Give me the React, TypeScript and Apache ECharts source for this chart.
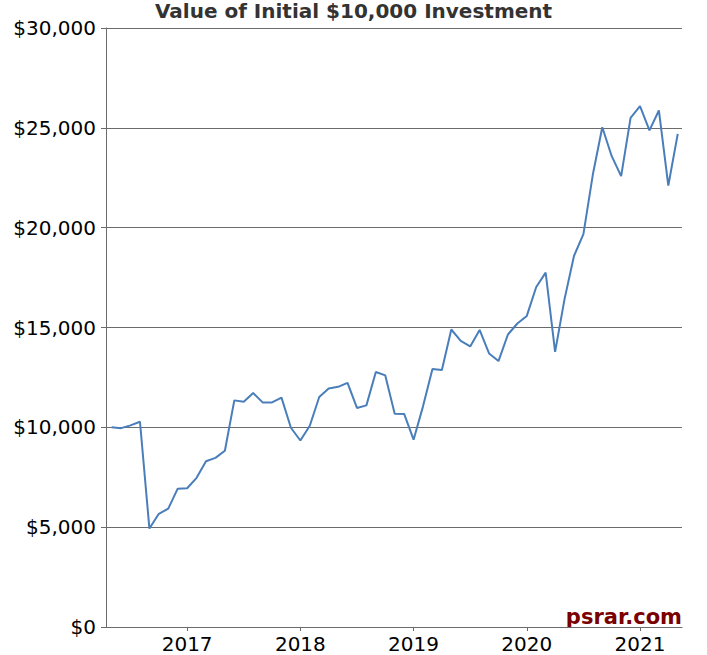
import React, { useEffect, useRef } from "react";
import * as echarts from "echarts";

const months: string[] = [
  "2016-04", "2016-05", "2016-06", "2016-07", "2016-08", "2016-09", "2016-10", "2016-11", "2016-12",
  "2017-01", "2017-02", "2017-03", "2017-04", "2017-05", "2017-06", "2017-07", "2017-08", "2017-09", "2017-10", "2017-11", "2017-12",
  "2018-01", "2018-02", "2018-03", "2018-04", "2018-05", "2018-06", "2018-07", "2018-08", "2018-09", "2018-10", "2018-11", "2018-12",
  "2019-01", "2019-02", "2019-03", "2019-04", "2019-05", "2019-06", "2019-07", "2019-08", "2019-09", "2019-10", "2019-11", "2019-12",
  "2020-01", "2020-02", "2020-03", "2020-04", "2020-05", "2020-06", "2020-07", "2020-08", "2020-09", "2020-10", "2020-11", "2020-12",
  "2021-01", "2021-02", "2021-03", "2021-04",
];

const values: number[] = [
  10000, 9960, 10100, 10280, 4930, 5670, 5930, 6930, 6950,
  7470, 8300, 8470, 8830, 11350, 11280, 11720, 11250, 11250, 11490, 9980, 9340,
  10080, 11520, 11950, 12030, 12230, 10970, 11100, 12770, 12600, 10680, 10670, 9380,
  11050, 12920, 12870, 14900, 14330, 14050, 14880, 13700, 13320, 14650, 15200, 15580,
  17030, 17750, 13780, 16420, 18580, 19680, 22660, 25030, 23580, 22580, 25500, 26090,
  24870, 25870, 22110, 24700,
];

const yearTicks: number[] = [2017, 2018, 2019, 2020, 2021];

const title = "Value of Initial $10,000 Investment";
const watermark = "psrar.com";

// month-end index: months elapsed since Jan 1 2016
const monthIndex = (m: string) => {
  const [y, mo] = m.split("-").map(Number);
  return (y - 2016) * 12 + mo;
};

export default function App() {
  const ref = useRef<HTMLDivElement>(null);
  useEffect(() => {
    if (!ref.current) return;
    const chart = echarts.init(ref.current, undefined, { renderer: "svg" });
    const font = "DejaVu Sans";
    const data = months.map((m, i) => [monthIndex(m), values[i]]);
    const tickVals = yearTicks.map((y) => (y - 2016) * 12);
    chart.setOption({
      animation: false,
      backgroundColor: "#ffffff",
      title: {
        text: title,
        left: "center",
        top: 0,
        padding: 0,
        textStyle: { fontFamily: font, fontWeight: "bold", fontSize: 20, lineHeight: 21, color: "#333333" },
      },
      grid: { left: 106, right: 25, top: 28, bottom: 28, containLabel: false },
      xAxis: {
        type: "value",
        min: 3.4,
        max: 64.45,
        splitLine: { show: false },
        axisLine: { show: true, lineStyle: { color: "#6b6b6b", width: 1 } },
        axisTick: { show: true, length: 4, customValues: tickVals, lineStyle: { color: "#6b6b6b" } },
        axisLabel: {
          customValues: tickVals,
          formatter: (v: number) => String(2016 + Math.round(v / 12)),
          fontFamily: font,
          fontSize: 20,
          lineHeight: 18,
          color: "#000000",
          margin: 8,
        },
      },
      yAxis: {
        type: "value",
        min: 0,
        max: 30000,
        interval: 5000,
        axisLine: { show: true, lineStyle: { color: "#6b6b6b", width: 1 } },
        axisTick: { show: true, length: 5, lineStyle: { color: "#6b6b6b" } },
        splitLine: { show: true, lineStyle: { color: "#6b6b6b", width: 1 } },
        axisLabel: {
          formatter: (v: number) => "$" + v.toLocaleString("en-US"),
          fontFamily: font,
          fontSize: 20,
          color: "#000000",
          margin: 10,
        },
      },
      series: [
        {
          type: "line",
          data,
          showSymbol: false,
          symbol: "none",
          lineStyle: { color: "#4a7ebb", width: 2 },
        },
      ],
      graphic: [
        {
          type: "text",
          right: 25,
          top: 606,
          style: {
            text: watermark,
            fontFamily: font,
            fontWeight: "bold",
            fontSize: 21,
            fill: "#7a0000",
          },
        },
      ],
    });
    return () => chart.dispose();
  }, []);
  return (
    <div
      ref={ref}
      style={{ position: "fixed", left: 0, top: 0, width: 707, height: 655 }}
    />
  );
}
